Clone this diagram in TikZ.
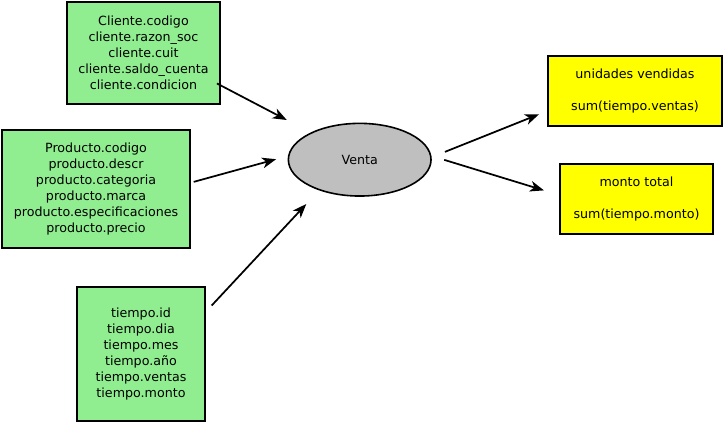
\documentclass[tikz,border=0pt]{standalone}
\usepackage{fontspec}
\setmainfont{DejaVu Sans}
\usetikzlibrary{arrows.meta,shapes.geometric}
\definecolor{verde}{RGB}{144,238,144}
\definecolor{amarillo}{RGB}{255,255,0}
\definecolor{gris}{RGB}{191,191,191}

\begin{document}
\begin{tikzpicture}[x=0.75pt,y=-0.75pt,
    caja/.style={draw,line width=1.4pt,inner sep=0pt,align=center,font=\fontsize{9.5pt}{12pt}\selectfont},
    tabla/.style={caja,fill=verde},
    medida/.style={caja,fill=amarillo},
    flecha/.style={-{Stealth[length=10.5pt,width=8pt,inset=3pt]},line width=1.3pt}]
    \useasboundingbox (0,0) rectangle (724,422);

    \node[tabla,minimum width=115.2pt,minimum height=76.5pt] (cliente) at (143.5,52.7)
        {Cliente.codigo\\cliente.razon\_soc\\cliente.cuit\\cliente.saldo\_cuenta\\cliente.condicion};
    \node[tabla,minimum width=141.5pt,minimum height=88.7pt] (producto) at (96,189.2)
        {Producto.codigo\\producto.descr\\producto.categoria\\producto.marca\\producto.especificaciones\\producto.precio};
    \node[tabla,minimum width=96.5pt,minimum height=100.5pt] (tiempo) at (141,353.7)
        {tiempo.id\\tiempo.dia\\tiempo.mes\\tiempo.año\\tiempo.ventas\\tiempo.monto};

    \node[caja,ellipse,line width=1.2pt,fill=gris,minimum width=107pt,minimum height=54.5pt] (venta) at (359.7,159.7) {Venta};

    \node[medida,minimum width=131pt,minimum height=52.7pt] (unidades) at (635,90.8)
        {unidades vendidas\\[12pt]sum(tiempo.ventas)};
    \node[medida,minimum width=115.2pt,minimum height=52.5pt] (monto) at (636.5,199)
        {monto total\\[12pt]sum(tiempo.monto)};

    \draw[flecha,shorten <=-3.6pt,shorten >=20.2pt] (cliente.-23.6) -- (venta.151.2);
    \draw[flecha,shorten <=1.9pt,shorten >=9.2pt] (producto.4.8) -- (venta.177.9);
    \draw[flecha,shorten <=5.9pt,shorten >=14pt] (tiempo.33.8) -- (venta.-143.3);
    \draw[flecha,shorten <=10.7pt,shorten >=6.2pt] (venta.2.9) -- (unidades.-167);
    \draw[flecha,shorten <=10pt,shorten >=11.6pt] (venta.3.6) -- (monto.177.5);

\end{tikzpicture}
\end{document}
